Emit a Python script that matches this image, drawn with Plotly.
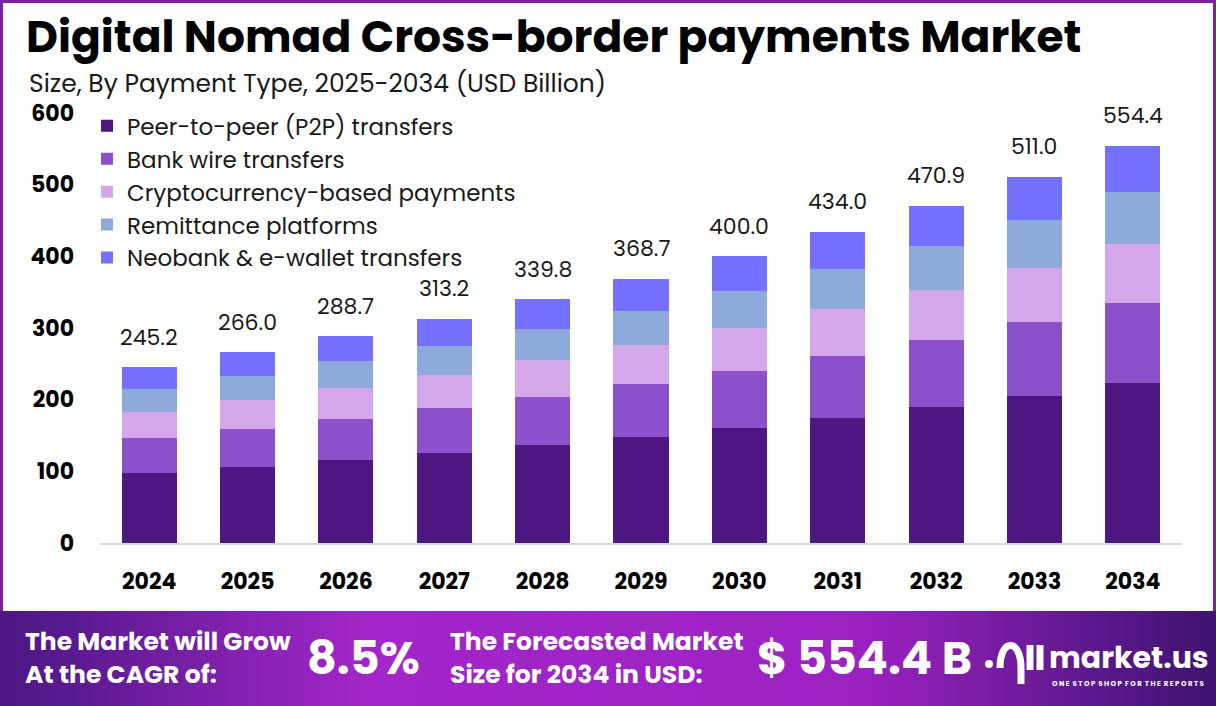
import plotly.graph_objects as go

# Datos (USD Billion)
years = ["2024", "2025", "2026", "2027", "2028", "2029",
         "2030", "2031", "2032", "2033", "2034"]
p2p = [98.1, 106.5, 116.2, 126.0, 137.0, 148.3, 160.8, 174.8, 190.2, 205.7, 223.8]
bank_wire = [48.8, 53.0, 57.2, 62.8, 67.0, 74.0, 79.6, 86.5, 93.5, 102.0, 110.4]
crypto = [36.3, 40.5, 43.3, 46.0, 51.7, 54.4, 60.0, 65.7, 69.8, 76.3, 83.6]
remittance = [32.1, 33.4, 37.7, 40.5, 43.3, 47.3, 51.6, 55.7, 61.3, 67.0, 71.4]
neobank = [29.9, 32.6, 34.3, 37.9, 40.8, 44.7, 48.0, 51.3, 56.1, 60.0, 65.2]
totals = [245.2, 266.0, 288.7, 313.2, 339.8, 368.7, 400.0, 434.0, 470.9, 511.0, 554.4]

cagr = "8.5%"
forecast = "$ 554.4 B"

W, H = 1216, 706
L, R, T, B = 100, 34, 113, 163
FONT = "Poppins, Inter, sans-serif"


def px(x):
    return (x - L) / (W - L - R)


def py(y):
    return (H - B - y) / (H - T - B)


series = [
    (p2p, "#4e1681", "Peer-to-peer (P2P) transfers"),
    (bank_wire, "#8c50cb", "Bank wire transfers"),
    (crypto, "#d4a7ea", "Cryptocurrency-based payments"),
    (remittance, "#8eaadb", "Remittance platforms"),
    (neobank, "#7570ff", "Neobank & e-wallet transfers"),
]

fig = go.Figure()
for vals, color, name in series:
    fig.add_trace(go.Bar(
        x=years, y=vals, name=name,
        marker=dict(color=color, line=dict(width=0)),
        hovertemplate="%{x}: %{y}<extra>" + name + "</extra>",
    ))

annotations = []
# Etiquetas de totales (x = indice de categoria)
for i, tot in enumerate(totals):
    annotations.append(dict(
        x=i, y=tot, xref="x", yref="y", text=f"{tot:.1f}", showarrow=False,
        yanchor="middle", yshift=30,
        font=dict(family=FONT, size=22, color="#1a1a1a"),
    ))

# Titulo y subtitulo
annotations.append(dict(
    x=px(24), y=py(36), xref="paper", yref="paper", xanchor="left", yanchor="middle",
    text="<b>Digital Nomad Cross-border payments Market</b>", showarrow=False,
    font=dict(family=FONT, size=44, color="#000000"),
))
annotations.append(dict(
    x=px(27), y=py(84), xref="paper", yref="paper", xanchor="left", yanchor="middle",
    text="Size, By Payment Type, 2025-2034 (USD Billion)", showarrow=False,
    font=dict(family=FONT, size=25, color="#1a1a1a"),
))

# Banner inferior
white = "#ffffff"
annotations += [
    dict(x=px(23), y=py(658), text="<b>The Market will Grow<br>At the CAGR of:</b>",
         xanchor="left", font=dict(family=FONT, size=25, color=white)),
    dict(x=px(305), y=py(658), text=f"<b>{cagr}</b>",
         xanchor="left", font=dict(family=FONT, size=46, color=white)),
    dict(x=px(448), y=py(658), text="<b>The Forecasted Market<br>Size for 2034 in USD:</b>",
         xanchor="left", font=dict(family=FONT, size=25, color=white)),
    dict(x=px(755), y=py(658), text=f"<b>{forecast}</b>",
         xanchor="left", font=dict(family=FONT, size=46, color=white)),
    dict(x=px(1047), y=py(657), text="<b>market.us</b>",
         xanchor="left", font=dict(family=FONT, size=30, color=white)),
    dict(x=px(1050), y=py(683), text="<b>O N E  S T O P  S H O P  F O R  T H E  R E P O R T S</b>",
         xanchor="left", font=dict(family=FONT, size=7, color=white)),
]
for a in annotations[-6:]:
    a.update(xref="paper", yref="paper", yanchor="middle", showarrow=False, align="left")


def hex2rgb(h):
    return tuple(int(h[i:i + 2], 16) for i in (1, 3, 5))


stops = [(0.0, "#4a1782"), (0.3, "#a226c9"), (0.7, "#9d22c4"), (1.0, "#3d136f")]


def grad(t):
    for (t0, c0), (t1, c1) in zip(stops, stops[1:]):
        if t <= t1:
            f = (t - t0) / (t1 - t0)
            a, b = hex2rgb(c0), hex2rgb(c1)
            return "rgb(%d,%d,%d)" % tuple(round(a[i] + (b[i] - a[i]) * f) for i in range(3))
    return stops[-1][1]


shapes = []
n = 80
for i in range(n):
    x0 = W * i / n
    x1 = W * (i + 1) / n + 1
    shapes.append(dict(
        type="rect", xref="paper", yref="paper", layer="below",
        x0=px(x0), x1=px(x1), y0=py(611), y1=py(H + 2),
        fillcolor=grad((i + 0.5) / n), line=dict(width=0),
    ))

# Borde morado
border = "#7b22a0"
shapes += [
    dict(type="rect", xref="paper", yref="paper", x0=px(0), x1=px(3), y0=py(611), y1=py(0),
         fillcolor=border, line=dict(width=0)),
    dict(type="rect", xref="paper", yref="paper", x0=px(W - 3), x1=px(W), y0=py(611), y1=py(0),
         fillcolor=border, line=dict(width=0)),
    dict(type="rect", xref="paper", yref="paper", x0=px(0), x1=px(W), y0=py(3), y1=py(0),
         fillcolor=border, line=dict(width=0)),
]

# Logo market.us (aproximado)
shapes += [
    dict(type="circle", xref="paper", yref="paper", x0=px(985), x1=px(993), y0=py(668), y1=py(660),
         fillcolor=white, line=dict(width=0)),
    dict(type="path", xref="paper", yref="paper",
         path="M {0},{1} C {0},{2} {3},{2} {3},{1} L {3},{4}".format(
             px(1000), py(668), py(638), px(1021), py(684)),
         line=dict(color=white, width=7)),
    dict(type="line", xref="paper", yref="paper", x0=px(1030), x1=px(1030), y0=py(645), y1=py(670),
         line=dict(color=white, width=7)),
    dict(type="line", xref="paper", yref="paper", x0=px(1040), x1=px(1040), y0=py(645), y1=py(670),
         line=dict(color=white, width=7)),
]

fig.update_layout(
    width=W, height=H,
    margin=dict(l=L, r=R, t=T, b=B, pad=0),
    barmode="stack", bargap=0.44,
    paper_bgcolor="white", plot_bgcolor="white",
    font=dict(family=FONT, color="#000000"),
    showlegend=True,
    legend=dict(
        x=-0.012, y=1.02, xanchor="left", yanchor="top",
        traceorder="normal",
        font=dict(family=FONT, size=23, color="#1a1a1a"),
        bgcolor="rgba(0,0,0,0)", itemclick=False, itemdoubleclick=False,
    ),
    annotations=annotations,
    shapes=shapes,
)
fig.update_xaxes(
    type="category", range=[-0.5, 10.5],
    showgrid=False, showline=True, linecolor="#d9d9d9", linewidth=2,
    ticks="", ticklabelstandoff=18,
    tickfont=dict(family=FONT, size=22, color="#000000", weight="bold"),
)
fig.update_yaxes(
    range=[0, 600], dtick=100, showgrid=False, showline=False, zeroline=False,
    ticks="", ticklabelstandoff=25,
    tickfont=dict(family=FONT, size=22, color="#000000", weight="bold"),
)

# sin margen del body para que la figura llene la ventana
fig.write_html("out.html", config={"displayModeBar": False},
               post_script="document.body.style.margin='0';")
